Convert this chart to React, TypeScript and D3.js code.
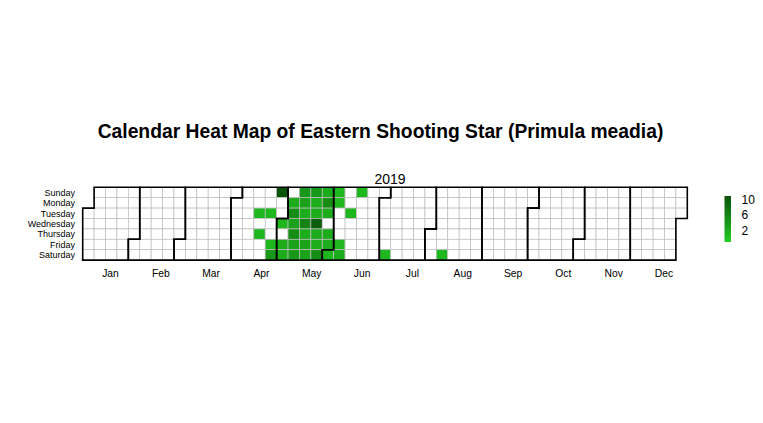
import React from 'react';
import * as d3 from 'd3';

// sightings per day
const sightingDates = [
  '2019-04-16', '2019-04-18',
  '2019-04-23', '2019-04-26', '2019-04-27',
  '2019-04-28', '2019-05-01', '2019-05-03', '2019-05-04',
  '2019-05-06', '2019-05-07', '2019-05-08', '2019-05-09', '2019-05-10', '2019-05-11',
  '2019-05-12', '2019-05-13', '2019-05-14', '2019-05-15', '2019-05-16', '2019-05-17', '2019-05-18',
  '2019-05-19', '2019-05-20', '2019-05-21', '2019-05-22', '2019-05-23', '2019-05-24', '2019-05-25',
  '2019-05-26', '2019-05-27', '2019-05-28', '2019-05-30', '2019-05-31', '2019-06-01',
  '2019-06-02', '2019-06-03', '2019-06-07', '2019-06-08',
  '2019-06-11', '2019-06-16', '2019-07-06', '2019-08-10',
];
const sightingCounts = [
  1, 1,
  1, 1, 4,
  11, 1, 2, 2,
  2, 5, 3, 5, 3, 4,
  4, 3, 2, 6, 2, 3, 3,
  4, 2, 2, 10, 2, 2, 5,
  2, 5, 2, 2, 2, 1,
  1, 1, 1, 2,
  1, 1, 1, 1,
];

const year = 2019;
const dayNames = ['Sunday', 'Monday', 'Tuesday', 'Wednesday', 'Thursday', 'Friday', 'Saturday'];
const monthNames = ['Jan', 'Feb', 'Mar', 'Apr', 'May', 'Jun', 'Jul', 'Aug', 'Sep', 'Oct', 'Nov', 'Dec'];
const legendTicks = [2, 6, 10];

const width = 763;
const height = 423;

const App: React.FC = () => {
  const counts = new Map<string, number>();
  sightingDates.forEach((d, i) => counts.set(d, sightingCounts[i]));
  const fmt = d3.timeFormat('%Y-%m-%d');

  const start = new Date(year, 0, 1);
  const end = new Date(year + 1, 0, 1);
  const days = d3.timeDays(start, end);
  const weekOf = (d: Date) => d3.timeSunday.count(d3.timeYear(d), d);

  const x = d3.scaleLinear().domain([0, 53]).range([82.7, 687.3]);
  const y = d3.scaleBand<number>().domain(d3.range(7)).range([187.3, 260.1]);
  const cw = x(1) - x(0);
  const ch = y.bandwidth();

  const color = d3
    .scaleLinear<string>()
    .domain([-1, 11])
    .range(['#22cc22', '#0a540a'])
    .interpolate(d3.interpolateLab);

  // month outline, as in the classic d3 calendar
  const monthPath = (m: Date) => {
    const last = new Date(m.getFullYear(), m.getMonth() + 1, 0);
    const d0 = m.getDay(), w0 = weekOf(m);
    const d1 = last.getDay(), w1 = weekOf(last);
    return (
      `M${x(w0 + 1)},${y(d0)}H${x(w0)}V${y(0)! + 7 * ch}` +
      `H${x(w1)}V${y(d1)! + ch}H${x(w1 + 1)}V${y(0)}H${x(w0 + 1)}Z`
    );
  };
  const months = d3.timeMonths(start, end);

  // month labels sit evenly under the strip
  const monthX = d3.scalePoint<string>().domain(monthNames).range([110.5, 664]);

  const legendY = d3.scaleLinear().domain([-1, 11]).range([242, 196]);
  const font = 'Liberation Sans, Arial, sans-serif';

  return (
    <svg
      width={width}
      height={height}
      style={{ position: 'absolute', left: 0, top: 0, background: '#fff' }}
      fontFamily={font}
    >
      <text x={380.5} y={137.5} textAnchor="middle" fontWeight="bold" fontSize={19.3}>
        Calendar Heat Map of Eastern Shooting Star (Primula meadia)
      </text>
      <text x={390} y={184} textAnchor="middle" fontSize={14}>
        {year}
      </text>

      <g>
        {days.map((d) => {
          const v = counts.get(fmt(d));
          return (
            <rect
              key={fmt(d)}
              x={x(weekOf(d))}
              y={y(d.getDay())}
              width={cw}
              height={ch}
              fill={v ? color(v) : '#ffffff'}
              stroke="#bdbdbd"
              strokeWidth={0.7}
            />
          );
        })}
      </g>
      <g fill="none" stroke="#000" strokeWidth={1.6}>
        {months.map((m) => (
          <path key={m.getMonth()} d={monthPath(m)} />
        ))}
      </g>

      <g fontSize={9} textAnchor="end">
        {dayNames.map((n, i) => (
          <text key={n} x={75} y={y(i)! + ch / 2 + 3.3}>
            {n}
          </text>
        ))}
      </g>
      <g fontSize={10.3} textAnchor="middle">
        {monthNames.map((n) => (
          <text key={n} x={monthX(n)} y={276.5}>
            {n}
          </text>
        ))}
      </g>

      <defs>
        <linearGradient id="legendGrad" x1="0" y1="1" x2="0" y2="0">
          {d3.range(0, 1.01, 0.1).map((t) => (
            <stop key={t} offset={t} stopColor={color(-1 + 12 * t)} />
          ))}
        </linearGradient>
      </defs>
      <rect x={724.5} y={legendY(11)} width={6.5} height={legendY(-1) - legendY(11)} fill="url(#legendGrad)" />
      <g fontSize={12}>
        {legendTicks.map((t) => (
          <text key={t} x={741.5} y={legendY(t) + 4.3}>
            {t}
          </text>
        ))}
      </g>
    </svg>
  );
};

export default App;
